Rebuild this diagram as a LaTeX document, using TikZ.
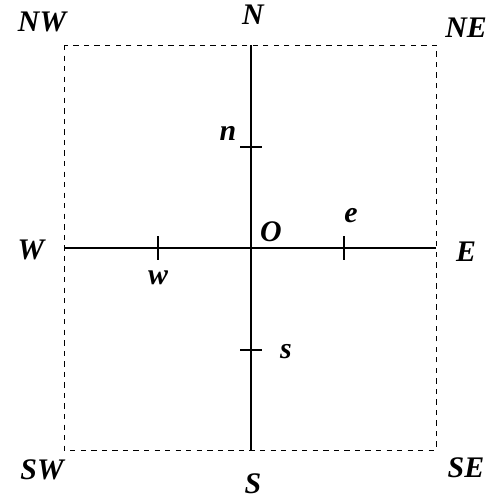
\documentclass[tikz,border=0pt]{standalone}
\usepackage{fontspec}
\setmainfont{Liberation Serif}
\usetikzlibrary{positioning}
\tikzset{
  cornice/.style = {draw, line width=0.55pt, dash pattern=on 3pt off 3pt},
  asse/.style    = {line width=1.2pt},
  tacca/.style   = {line width=1pt},
  punto/.style   = {inner sep=0, minimum size=0pt},
  et/.style      = {font=\fontsize{17}{19}\selectfont\bfseries\itshape, inner sep=1pt}
}
\begin{document}
\begin{tikzpicture}

  \useasboundingbox (0,0) rectangle (10,-10.04);

  % frame and axes
  \draw[cornice] (1.28,-0.9) rectangle (8.72,-9.0);
  \coordinate (O) at (5.02,-4.96);
  \coordinate (top) at (5.02,-0.9);  \coordinate (bot) at (5.02,-9.0);
  \coordinate (lft) at (1.28,-4.96); \coordinate (rgt) at (8.72,-4.96);
  \draw[asse] (top)--(bot);
  \draw[asse] (lft)--(rgt);

  % ticks
  \node[punto] (tn) at (5.02,-2.94){}; \draw[tacca] ([xshift=-0.22cm]tn.center)--([xshift=0.22cm]tn.center);
  \node[punto] (ts) at (5.02,-7.0){};  \draw[tacca] ([xshift=-0.22cm]ts.center)--([xshift=0.22cm]ts.center);
  \node[punto] (tw) at (3.16,-4.96){}; \draw[tacca] ([yshift=0.24cm]tw.center)--([yshift=-0.24cm]tw.center);
  \node[punto] (te) at (6.88,-4.96){}; \draw[tacca] ([yshift=0.24cm]te.center)--([yshift=-0.24cm]te.center);

  % labels
  \node[et] (NW) at (0.84,-0.44) {NW};
  \node[et] (N)  at (5.06,-0.30) {N};
  \node[et] (NE) at (9.32,-0.56) {NE};
  \node[et] (W)  at (0.62,-5.00) {W};
  \node[et] (E)  at (9.32,-5.04) {E};
  \node[et] (SW) at (0.84,-9.40) {SW};
  \node[et] (S)  at (5.06,-9.68) {S};
  \node[et] (SE) at (9.32,-9.36) {SE};
  \node[et] (lO) at (5.42,-4.64) {O};
  \node[et] (ln) at (4.56,-2.66) {n};
  \node[et] (le) at (7.02,-4.32) {e};
  \node[et] (lw) at (3.16,-5.56) {w};
  \node[et] (ls) at (5.72,-7.04) {s};

\end{tikzpicture}
\end{document}
